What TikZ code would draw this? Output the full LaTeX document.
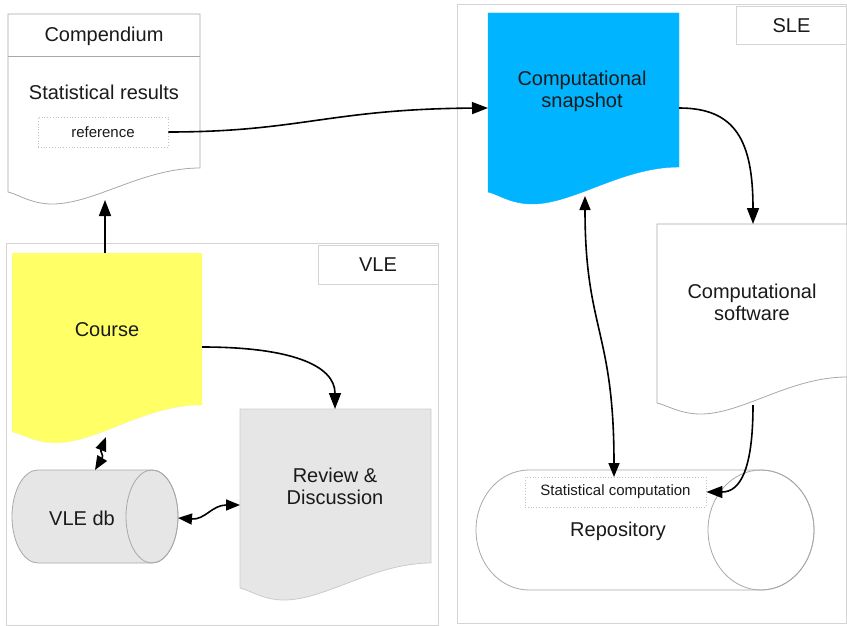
\documentclass[tikz,border=0pt]{standalone}
\usepackage{fontspec}
\setmainfont{Liberation Sans}
\usetikzlibrary{arrows.meta}
\definecolor{frameC}{HTML}{D4D4D4}
\definecolor{lineC}{HTML}{A8A8A8}
\definecolor{yellowC}{HTML}{FFFF66}
\definecolor{blueC}{HTML}{00B4FF}
\definecolor{grayC}{HTML}{E6E6E6}
\definecolor{txtC}{HTML}{1A1A1A}
% document shape: x1,x2,top,yRight,yLeft,yMin
\newcommand\docpath[6]{(#1,#3) -- (#2,#3) -- (#2,#4) .. controls ({#2-0.3*(#2-#1)},#4) and ({#1+0.45*(#2-#1)},#6) .. ({#1+0.23*(#2-#1)},#6) .. controls ({#1+0.12*(#2-#1)},#6) and ({#1+0.05*(#2-#1)},{#5+2}) .. (#1,#5) -- cycle}
\tikzset{
  big/.style={font=\fontsize{20}{22}\selectfont, text=txtC, align=center},
  small/.style={font=\fontsize{15}{17}\selectfont, text=txtC},
  frame/.style={draw=frameC, line width=1pt},
  shapeline/.style={draw=lineC, line width=0.8pt},
  dotbox/.style={small, draw=lineC!70, dotted, line width=0.8pt, inner sep=0pt},
  arr/.style={line width=1.6pt, -{Triangle[length=16pt,width=12pt]}},
  darr/.style={line width=1.6pt, {Triangle[length=14pt,width=11pt]}-{Triangle[length=14pt,width=11pt]}},
}
\begin{document}
\begin{tikzpicture}[x=1pt,y=-1pt]
\useasboundingbox (0,0) rectangle (847,626);
% frames
\draw[frame] (6,243) rectangle (438,625);
\node[frame, big, minimum width=120pt, minimum height=39pt, inner sep=0pt] (vlelab) at (378,264.5) {VLE};
\draw[frame] (457,5) rectangle (846,623);
\node[frame, big, minimum width=111pt, minimum height=38pt, inner sep=0pt] (slelab) at (791.5,26) {SLE};
% Compendium
\draw[shapeline, fill=white] \docpath{8}{200}{14}{168}{192}{204};
\draw[shapeline] (8,56) -- (200,56);
\node[big] (comptitle) at (104,36) {Compendium};
\node[big] (statres) at (104,92) {Statistical results};
\node[dotbox, minimum width=130pt, minimum height=30pt] (ref) at (103,132) {reference};
\coordinate (compB) at (105,200);
% Course
\draw[draw=yellowC!80!black!20, fill=yellowC] \docpath{12}{202}{253}{405}{432}{443};
\node[big] (course) at (107,330) {Course};
\coordinate (courseT) at (105,253);
\coordinate (courseR) at (202,347);
\coordinate (courseB) at (106,437);
% Review
\draw[shapeline, draw=lineC!60, fill=grayC] \docpath{240}{431}{409}{563}{588}{600};
\node[big] (review) at (335,486) {Review \&\\Discussion};
\coordinate (reviewT) at (335,409);
\coordinate (reviewL) at (240,505);
% VLE db cylinder
\draw[shapeline, fill=grayC] (38,470) -- (152,470) arc[start angle=-90,end angle=90,x radius=26,y radius=46.5] -- (38,563) arc[start angle=90,end angle=270,x radius=26,y radius=46.5] -- cycle;
\draw[shapeline] (152,516.5) ellipse[x radius=26,y radius=46.5];
\node[big] (vledb) at (82,518) {VLE db};
\coordinate (dbT) at (95,470);
\coordinate (dbR) at (178,518);
% Snapshot
\draw[draw=blueC, fill=blueC] \docpath{488}{679}{13}{167}{192}{204};
\node[big] (snap) at (582,91) {Computational\\snapshot};
\coordinate (snapL) at (488,108);
\coordinate (snapR) at (679,108);
\coordinate (snapB) at (585,196);
% Software
\draw[shapeline, fill=white] \docpath{657}{847}{224}{377}{403}{414};
\node[big] (soft) at (752,302) {Computational\\software};
\coordinate (softT) at (753,224);
\coordinate (softB) at (753,405);
% Repository
\draw[shapeline, fill=white] (529,470) -- (761,470) arc[start angle=-90,end angle=90,x radius=53,y radius=60] -- (529,590) arc[start angle=90,end angle=270,x radius=53,y radius=60] -- cycle;
\draw[shapeline] (761,530) ellipse[x radius=53,y radius=60];
\node[big] (repo) at (618,531) {Repository};
\node[dotbox, minimum width=181pt, minimum height=30pt] (statcomp) at (615.5,492) {Statistical computation};
\coordinate (repoT) at (614,477);
% connectors
\draw[arr] (courseT) -- (compB);
\draw[arr] (ref.east) .. controls (300,132) and (330,109) .. (snapL);
\draw[arr] (snapR) .. controls (735,108) and (753,140) .. (softT);
\draw[darr] (snapB) .. controls (585,330) and (614,330) .. (repoT);
\draw[arr] (softB) .. controls (753,470) and (740,492) .. (statcomp.east);
\draw[arr] (courseR) .. controls (290,347) and (335,365) .. (reviewT);
\draw[darr] (courseB) .. controls (100,452) and (104,455) .. (dbT);
\draw[darr] (dbR) .. controls (205,520) and (212,505) .. (reviewL);
\end{tikzpicture}
\end{document}
